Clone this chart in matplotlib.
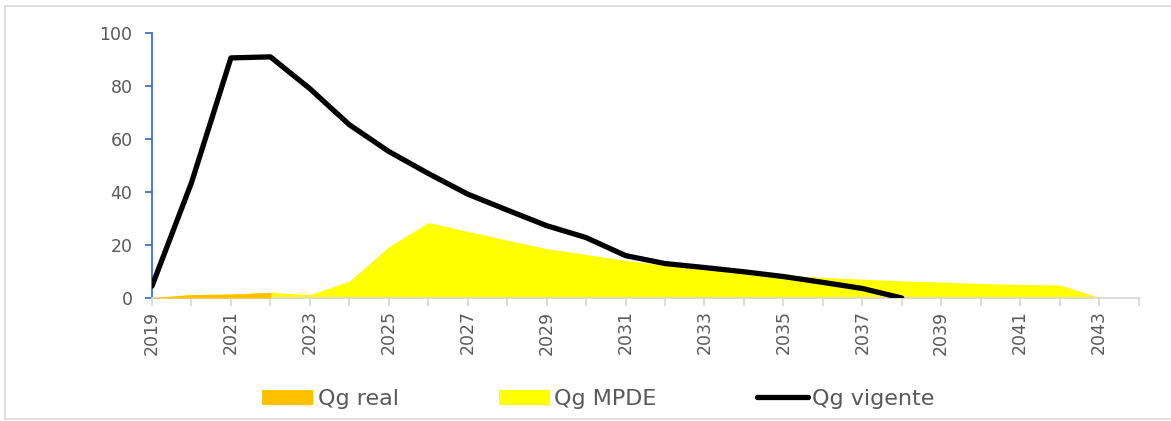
import matplotlib.pyplot as plt
import numpy as np
from matplotlib.lines import Line2D

# values
years_real = [2019, 2020, 2021, 2022]
qg_real = [0.2, 1.3, 1.5, 2.1]

years_mpde = list(range(2019, 2044))
qg_mpde = [0.0, 1.3, 1.5, 2.1, 1.3, 6.4, 19.4, 28.5, 25.1, 21.8, 18.6, 16.4, 14.2,
           12.3, 10.9, 9.6, 8.5, 7.8, 7.1, 6.5, 6.0, 5.5, 5.1, 4.9, 0.2]

years_vig = list(range(2019, 2039))
qg_vigente = [4.5, 43.5, 90.6, 91.0, 79.0, 65.4, 55.3, 47.0, 39.2, 33.2, 27.3, 22.8,
              16.0, 13.0, 11.5, 9.9, 8.1, 5.9, 3.6, 0.0]

tick_years = list(range(2019, 2045, 2))

plt.rcParams['font.family'] = ['DejaVu Sans']
text_col = '#595959'

fig = plt.figure(figsize=(11.71, 4.21), dpi=100)
ax = fig.add_axes([152 / 1171, 1 - 298 / 421, (1138.5 - 152) / 1171, 265 / 421])

ax.fill_between(years_mpde, qg_mpde, 0, color='#FFFF00', linewidth=0, label='Qg MPDE', zorder=2)
ax.fill_between(years_real, qg_real, 0, color='#FFC000', linewidth=0, label='Qg real', zorder=3)
ax.plot(years_vig, qg_vigente, color='black', linewidth=3.8, solid_capstyle='round',
        solid_joinstyle='round', label='Qg vigente', zorder=4)

ax.set_xlim(2019, 2044)
ax.set_ylim(0, 100)
ax.set_yticks(range(0, 101, 20))
ax.set_xticks(tick_years)
ax.set_xticks(range(2019, 2045), minor=True)
ax.set_xticklabels([str(y) if y <= 2043 else '' for y in tick_years], rotation=90)

for s in ['top', 'right']:
    ax.spines[s].set_visible(False)
ax.spines['left'].set_color('#4472C4')
ax.spines['left'].set_linewidth(1.3)
ax.spines['bottom'].set_color('#D9D9D9')
ax.spines['bottom'].set_linewidth(1.3)

ax.tick_params(axis='y', colors='#4472C4', labelcolor=text_col, labelsize=12.5,
               length=5, width=1.3, pad=9)
ax.tick_params(axis='x', which='both', colors='#D9D9D9', labelcolor=text_col,
               labelsize=12.5, length=6, width=1.3, pad=3)

# legend order as in the reference
h, l = ax.get_legend_handles_labels()
order = [l.index('Qg real'), l.index('Qg MPDE'), l.index('Qg vigente')]
leg = fig.legend([h[i] for i in order], [l[i] for i in order], loc='center',
                 bbox_to_anchor=(0.511, 0.052), ncol=3, frameon=False, fontsize=16,
                 handlelength=2.3, handleheight=0.65, handletextpad=0.2, columnspacing=4.5)
for t in leg.get_texts():
    t.set_color(text_col)

# light chart-area border (top, left, bottom; right edge is cut off)
x0, y0, y1 = 5 / 1171, 2 / 421, 415 / 421
for xs, ys in [([x0, 1], [y1, y1]), ([x0, x0], [y0, y1]), ([x0, 1], [y0, y0])]:
    fig.add_artist(Line2D(xs, ys, transform=fig.transFigure, color='#D9D9D9', linewidth=1.2))

fig.savefig('out.png', dpi=100)
